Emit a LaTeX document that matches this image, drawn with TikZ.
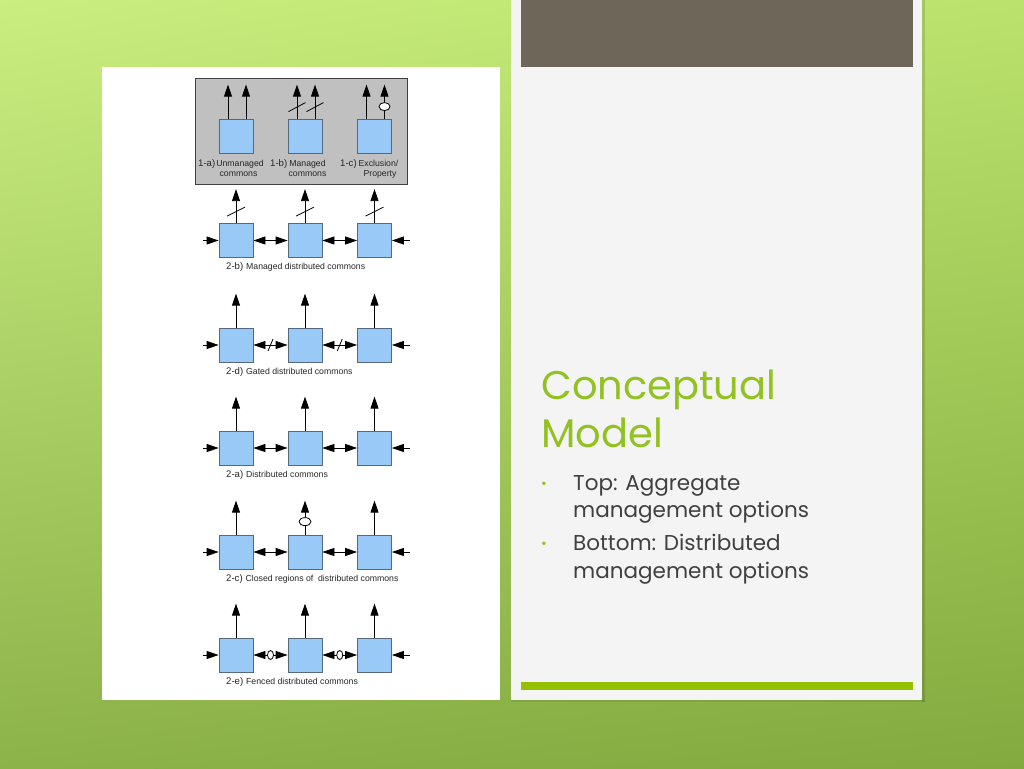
\documentclass[tikz,border=0pt]{standalone}
\usepackage{fontspec}
\setmainfont{Liberation Sans}
\newfontfamily\titlefont{Poppins}
\usetikzlibrary{arrows.meta,calc,shapes.geometric,shadings}
\definecolor{bgUL}{RGB}{202,238,128}
\definecolor{bgUR}{RGB}{186,226,108}
\definecolor{bgLL}{RGB}{140,178,74}
\definecolor{bgLR}{RGB}{130,170,62}
\definecolor{panel}{RGB}{244,244,244}
\definecolor{band}{RGB}{110,103,89}
\definecolor{accent}{RGB}{146,194,34}
\definecolor{barcol}{RGB}{148,192,0}
\definecolor{txt}{RGB}{64,64,64}
\definecolor{boxfill}{RGB}{153,201,247}
\definecolor{boxline}{RGB}{84,104,128}
\definecolor{grayfill}{RGB}{192,192,192}
\begin{document}
\begin{tikzpicture}[x=1pt,y=-1pt,
  cbox/.style={draw=boxline,fill=boxfill,line width=0.8pt,minimum width=34pt,minimum height=34pt,inner sep=0pt},
  flow/.style={line width=0.8pt,-{Triangle[length=12pt,width=8pt]}},
  bflow/.style={line width=0.8pt,{Triangle[length=12pt,width=8pt]}-{Triangle[length=12pt,width=8pt]}},
  plain/.style={line width=0.8pt},
  lab/.style={font=\fontsize{8.7}{10}\selectfont,inner sep=0pt,text=black!85},
  pre/.style={font=\fontsize{9.6}{10}\selectfont,inner sep=0pt,text=black!85},
  slash/.style={line width=0.8pt},
  oval/.style={ellipse,draw,fill=white,line width=0.8pt,inner sep=0pt},
  titletext/.style={anchor=base west,inner sep=0pt,text=accent,font=\titlefont\fontsize{40}{48}\selectfont},
  bodytext/.style={anchor=base west,inner sep=0pt,text=txt,font=\titlefont\fontsize{21.5}{27}\selectfont},
  bullettext/.style={anchor=base west,inner sep=0pt,text=accent,font=\titlefont\fontsize{14}{27}\selectfont}
]
\useasboundingbox (0,0) rectangle (1024,768);
% background
\shade[upper left=bgUL,upper right=bgUR,lower left=bgLL,lower right=bgLR] (0,0) rectangle (1024,768);
% right panel
\fill[black,opacity=0.12] (922,0) rectangle (925,702);
\fill[black,opacity=0.08] (511,700) rectangle (925,702);
\fill[panel] (511,0) rectangle (922,700);
\fill[band] (521,0) rectangle (913,67);
\fill[barcol] (521,682) rectangle (913,690);
% white panel
\fill[white] (102,67) rectangle (500,700);
% gray container
\draw[fill=grayfill,draw=black!75,line width=0.8pt] (195,78) rectangle (407,184);

% title and bullets
\node[titletext] (t1) at (541,399) {Conceptual};
\node[titletext] (t2) at (541,447) {Model};
\node[bullettext] (bu1) at (541,488) {•};
\node[bodytext] (l1) at (573,490) {Top: Aggregate};
\node[bodytext] (l2) at (573,517) {management options};
\node[bullettext] (bu2) at (541,548) {•};
\node[bodytext] (l3) at (573,550) {Bottom: Distributed};
\node[bodytext] (l4) at (573,578) {management options};

% ---------- top row (aggregate) ----------
\node[cbox] (a1) at (236,136) {};
\node[cbox] (a2) at (305,136) {};
\node[cbox] (a3) at (374.5,136) {};
\foreach \n in {a1,a2,a3}{
  \coordinate (\n bl) at ($(\n.north)+(-8,0)$);
  \coordinate (\n br) at ($(\n.north)+(10,0)$);
  \coordinate (\n tl) at ($(\n.north)+(-8,-34)$);
  \coordinate (\n tr) at ($(\n.north)+(10,-34)$);
}
\draw[flow] (a1bl) -- (a1tl);
\draw[flow] (a1br) -- (a1tr);
\draw[flow] (a2bl) -- (a2tl);
\draw[flow] (a2br) -- (a2tr);
\draw[slash] ($(a2bl)+(-8.5,-7)$) -- ($(a2bl)+(8.5,-16)$);
\draw[slash] ($(a2br)+(-8.5,-7)$) -- ($(a2br)+(8.5,-16)$);
\draw[flow] (a3bl) -- (a3tl);
\node[oval,minimum width=11pt,minimum height=8pt] (a3o) at ($(a3br)+(0,-12)$) {};
\draw[plain] (a3br) -- (a3o.south);
\draw[flow] (a3o.north) -- (a3tr);

\node[pre,anchor=base west] (p1a) at (198,166.5) {1-a)};
\node[lab,anchor=base] (w1a) at (240,166.5) {Unmanaged};
\node[lab,anchor=base] (w1a2) at (238.5,176.5) {commons};
\node[pre,anchor=base west] (p1b) at (270,166.5) {1-b)};
\node[lab,anchor=base] (w1b) at (307.5,166.5) {Managed};
\node[lab,anchor=base] (w1b2) at (307.5,176.5) {commons};
\node[pre,anchor=base west] (p1c) at (340,166.5) {1-c)};
\node[lab,anchor=base] (w1c) at (378.5,166.5) {Exclusion/};
\node[lab,anchor=base] (w1c2) at (380,176.5) {Property};

% ---------- distributed rows ----------
\foreach \r/\y/\pl/\tx in {b/240.5/2-b)/Managed distributed commons,
                            d/345/2-d)/Gated distributed commons,
                            a/448/2-a)/Distributed commons,
                            c/552/2-c)/Closed regions of~ distributed commons,
                            e/655/2-e)/Fenced distributed commons}{
  \node[cbox] (\r1) at (236,\y) {};
  \node[cbox] (\r2) at (305,\y) {};
  \node[cbox] (\r3) at (374.5,\y) {};
  \coordinate (\r L) at (203,\y);
  \coordinate (\r R) at (410,\y);
  \draw[flow] (\r L) -- (\r1.west);
  \draw[flow] (\r R) -- (\r3.east);
  \coordinate (\r1t) at ($(\r1.north)+(0,-34)$);
  \coordinate (\r2t) at ($(\r2.north)+(0,-34)$);
  \coordinate (\r3t) at ($(\r3.north)+(0,-34)$);
  \draw[flow] (\r1.north) -- (\r1t);
  \draw[flow] (\r3.north) -- (\r3t);
  \node[pre,anchor=base west] (\r P) at ($(\r1.south)+(-10,12)$) {\pl};
  \node[lab,anchor=base west] (\r W) at ($(\r P.base east)+(2.5,0)$) {\tx};
}
% middle vertical arrows (plain rows)
\draw[flow] (b2.north) -- (b2t);
\draw[flow] (d2.north) -- (d2t);
\draw[flow] (a2.north) -- (a2t);
\draw[flow] (e2.north) -- (e2t);
% 2-c middle: closed (oval)
\node[oval,minimum width=12pt,minimum height=8pt] (co) at ($(c2.north)+(0,-13)$) {};
\draw[plain] (c2.north) -- (co.south);
\draw[flow] (co.north) -- (c2t);
% 2-b slashes on vertical arrows
\foreach \n in {b1,b2,b3}{
  \draw[slash] ($(\n.north)+(-9,-7)$) -- ($(\n.north)+(9,-16)$);
}
% horizontal connectors
\draw[bflow] (b1.east) -- (b2.west);
\draw[bflow] (b2.east) -- (b3.west);
\draw[bflow] (a1.east) -- (a2.west);
\draw[bflow] (a2.east) -- (a3.west);
\draw[bflow] (c1.east) -- (c2.west);
\draw[bflow] (c2.east) -- (c3.west);
% 2-d gated
\draw[bflow] (d1.east) -- (d2.west);
\draw[bflow] (d2.east) -- (d3.west);
\draw[slash] ($(d1.east)!0.5!(d2.west)+(-2.5,6)$) -- ++(5,-12);
\draw[slash] ($(d2.east)!0.5!(d3.west)+(-2.5,6)$) -- ++(5,-12);
% 2-e fenced
\draw[bflow] (e1.east) -- (e2.west);
\draw[bflow] (e2.east) -- (e3.west);
\node[oval,minimum width=6pt,minimum height=9pt] (eo1) at ($(e1.east)!0.5!(e2.west)$) {};
\node[oval,minimum width=6pt,minimum height=9pt] (eo2) at ($(e2.east)!0.5!(e3.west)$) {};
\end{tikzpicture}
\end{document}
